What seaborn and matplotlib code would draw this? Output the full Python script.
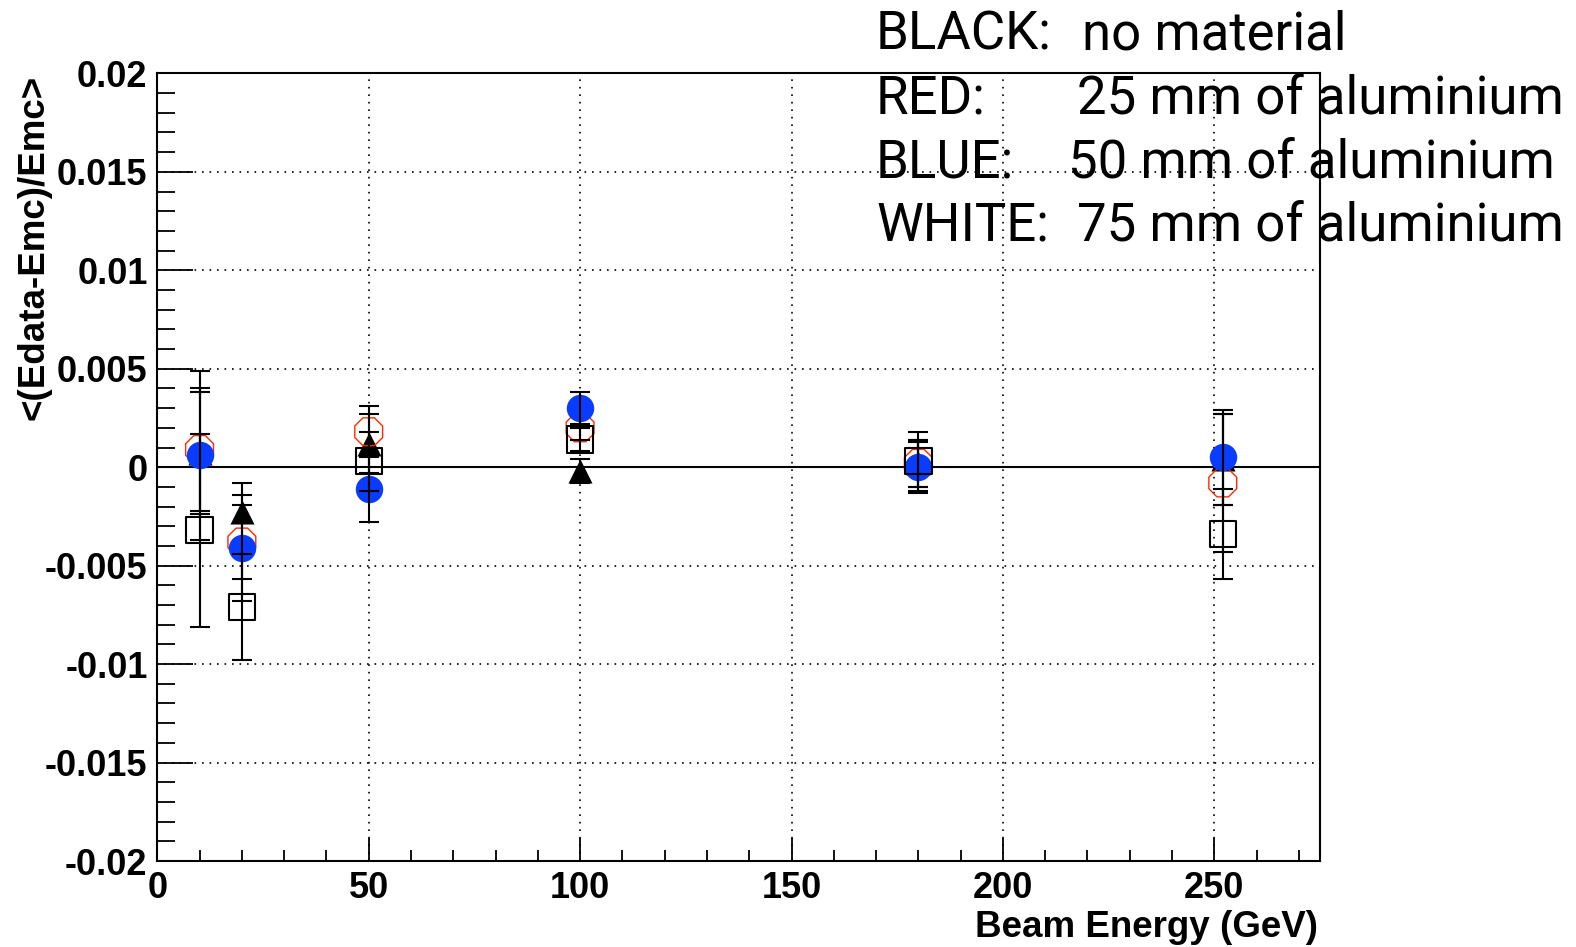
import numpy as np
import pandas as pd
import matplotlib
matplotlib.use("Agg")
import matplotlib.pyplot as plt
import seaborn as sns

# ---- data ----
energy = [10, 20, 50, 100, 180, 252]

black_val = [0.0007, -0.0023, 0.0012, -0.0002, 0.0002, 0.0004]
black_err = [0.0031, 0.0015, 0.0015, 0.0006, 0.0012, 0.0023]

red_val = [0.0009, -0.0038, 0.0018, 0.0020, 0.0002, -0.0008]
red_err = [0.0031, 0.0019, 0.0013, 0.0006, 0.0012, 0.0035]

blue_val = [0.0006, -0.0041, -0.0011, 0.0030, 0.0000, 0.0005]
blue_err = [0.0043, 0.0027, 0.0017, 0.0008, 0.0013, 0.0024]

white_val = [-0.0032, -0.0071, 0.0003, 0.0014, 0.0003, -0.0034]
white_err = [0.0049, 0.0027, 0.0015, 0.0006, 0.0015, 0.0023]

y_ticks = [-0.02, -0.015, -0.01, -0.005, 0, 0.005, 0.01, 0.015, 0.02]
y_tick_labels = ["-0.02", "-0.015", "-0.01", "-0.005", "0", "0.005", "0.01", "0.015", "0.02"]
x_ticks = [0, 50, 100, 150, 200, 250]
x_tick_labels = ["0", "50", "100", "150", "200", "250"]

legend_names = ["BLACK:", "RED:", "BLUE:", "WHITE:"]
legend_texts = ["no material", "25 mm of aluminium", "50 mm of aluminium", "75 mm of aluminium"]

x_label = "Beam Energy (GeV)"
y_label = "<(Edata-Emc)/Emc>"

# ---- figure ----
sns.set_style("white")
plt.rcParams['font.family'] = ['Liberation Sans', 'DejaVu Sans']
for k in ["text.color", "axes.labelcolor", "xtick.color", "ytick.color", "axes.edgecolor"]:
    plt.rcParams[k] = "black"

W, H = 1576, 947
fig = plt.figure(figsize=(W / 100, H / 100), dpi=100)
left, right, top, bottom = 157.3, 1320, 73.4, 861
ax = fig.add_axes([left / W, 1 - bottom / H, (right - left) / W, (bottom - top) / H])

ax.set_xlim(0, 275)
ax.set_ylim(-0.02, 0.02)

# grid
for xv in x_ticks[1:]:
    ax.axvline(xv, color="black", lw=1.2, ls=(0, (1, 3.5)), zorder=1)
for yv in y_ticks[1:-1]:
    if yv != 0:
        ax.axhline(yv, color="black", lw=1.2, ls=(0, (1, 3.5)), zorder=1)
ax.axhline(0, color="black", lw=1.5, zorder=1.5)

series = [
    (black_val, black_err, dict(marker="^", s=300, color="black", edgecolor="black", linewidth=0)),
    (red_val, red_err, dict(marker="8", s=470, facecolor="none", edgecolor="#ff2a00", linewidth=1.0)),
    (blue_val, blue_err, dict(marker="o", s=390, color="#0a3cff", edgecolor="#0a3cff", linewidth=0)),
    (white_val, white_err, dict(marker="s", s=361, facecolor="none", edgecolor="black", linewidth=1.5)),
]

z = 3
for vals, errs, kw in series:
    df = pd.DataFrame({"E": energy, "v": vals})
    sns.scatterplot(data=df, x="E", y="v", ax=ax, zorder=z, legend=False, **kw)
    ax.errorbar(energy, vals, yerr=errs, fmt="none", ecolor="black",
                elinewidth=1.5, capsize=7, capthick=1.5, zorder=z + 0.5)
    z += 1

ax.set_xlabel("")
ax.set_ylabel("")

# ticks
ax.set_xticks(x_ticks)
ax.set_xticklabels(x_tick_labels)
ax.set_yticks(y_ticks)
ax.set_yticklabels(y_tick_labels)
ax.xaxis.set_minor_locator(matplotlib.ticker.MultipleLocator(10))
ax.yaxis.set_minor_locator(matplotlib.ticker.MultipleLocator(0.001))
ax.tick_params(axis="x", which="major", direction="in", length=16.5, width=1.3,
               pad=7, labelsize=26, bottom=True, top=False)
ax.tick_params(axis="x", which="minor", direction="in", length=8, width=1.3,
               bottom=True, top=False)
ax.tick_params(axis="y", which="major", direction="in", length=26, width=1.3,
               pad=7, labelsize=26, left=True, right=False)
ax.tick_params(axis="y", which="minor", direction="in", length=13, width=1.3,
               left=True, right=False)
for lab in ax.get_xticklabels() + ax.get_yticklabels():
    lab.set_fontweight("bold")

for sp in ax.spines.values():
    sp.set_visible(True)
    sp.set_linewidth(1.5)
    sp.set_color("black")

# axis titles (ROOT style: at the ends)
fig.text(1318 / W, 1 - 937 / H, x_label, ha="right", va="baseline",
         fontsize=26.5, fontweight="bold")
fig.text(34 / W, 1 - 75 / H, y_label, ha="center", va="top", rotation=90,
         fontsize=26.5, fontweight="bold")

# annotation block top-right
baselines = [50, 114, 177, 240]
value_x = [1082, 1077, 1068, 1077]
for name, txt, b, vx in zip(legend_names, legend_texts, baselines, value_x):
    fig.text(876 / W, 1 - b / H, name, ha="left", va="baseline", fontsize=38,
             family=["Roboto", "DejaVu Sans"], zorder=20)
    fig.text(vx / W, 1 - b / H, txt, ha="left", va="baseline", fontsize=38,
             family=["Roboto", "DejaVu Sans"], zorder=20)

fig.savefig("out.png", dpi=100)
